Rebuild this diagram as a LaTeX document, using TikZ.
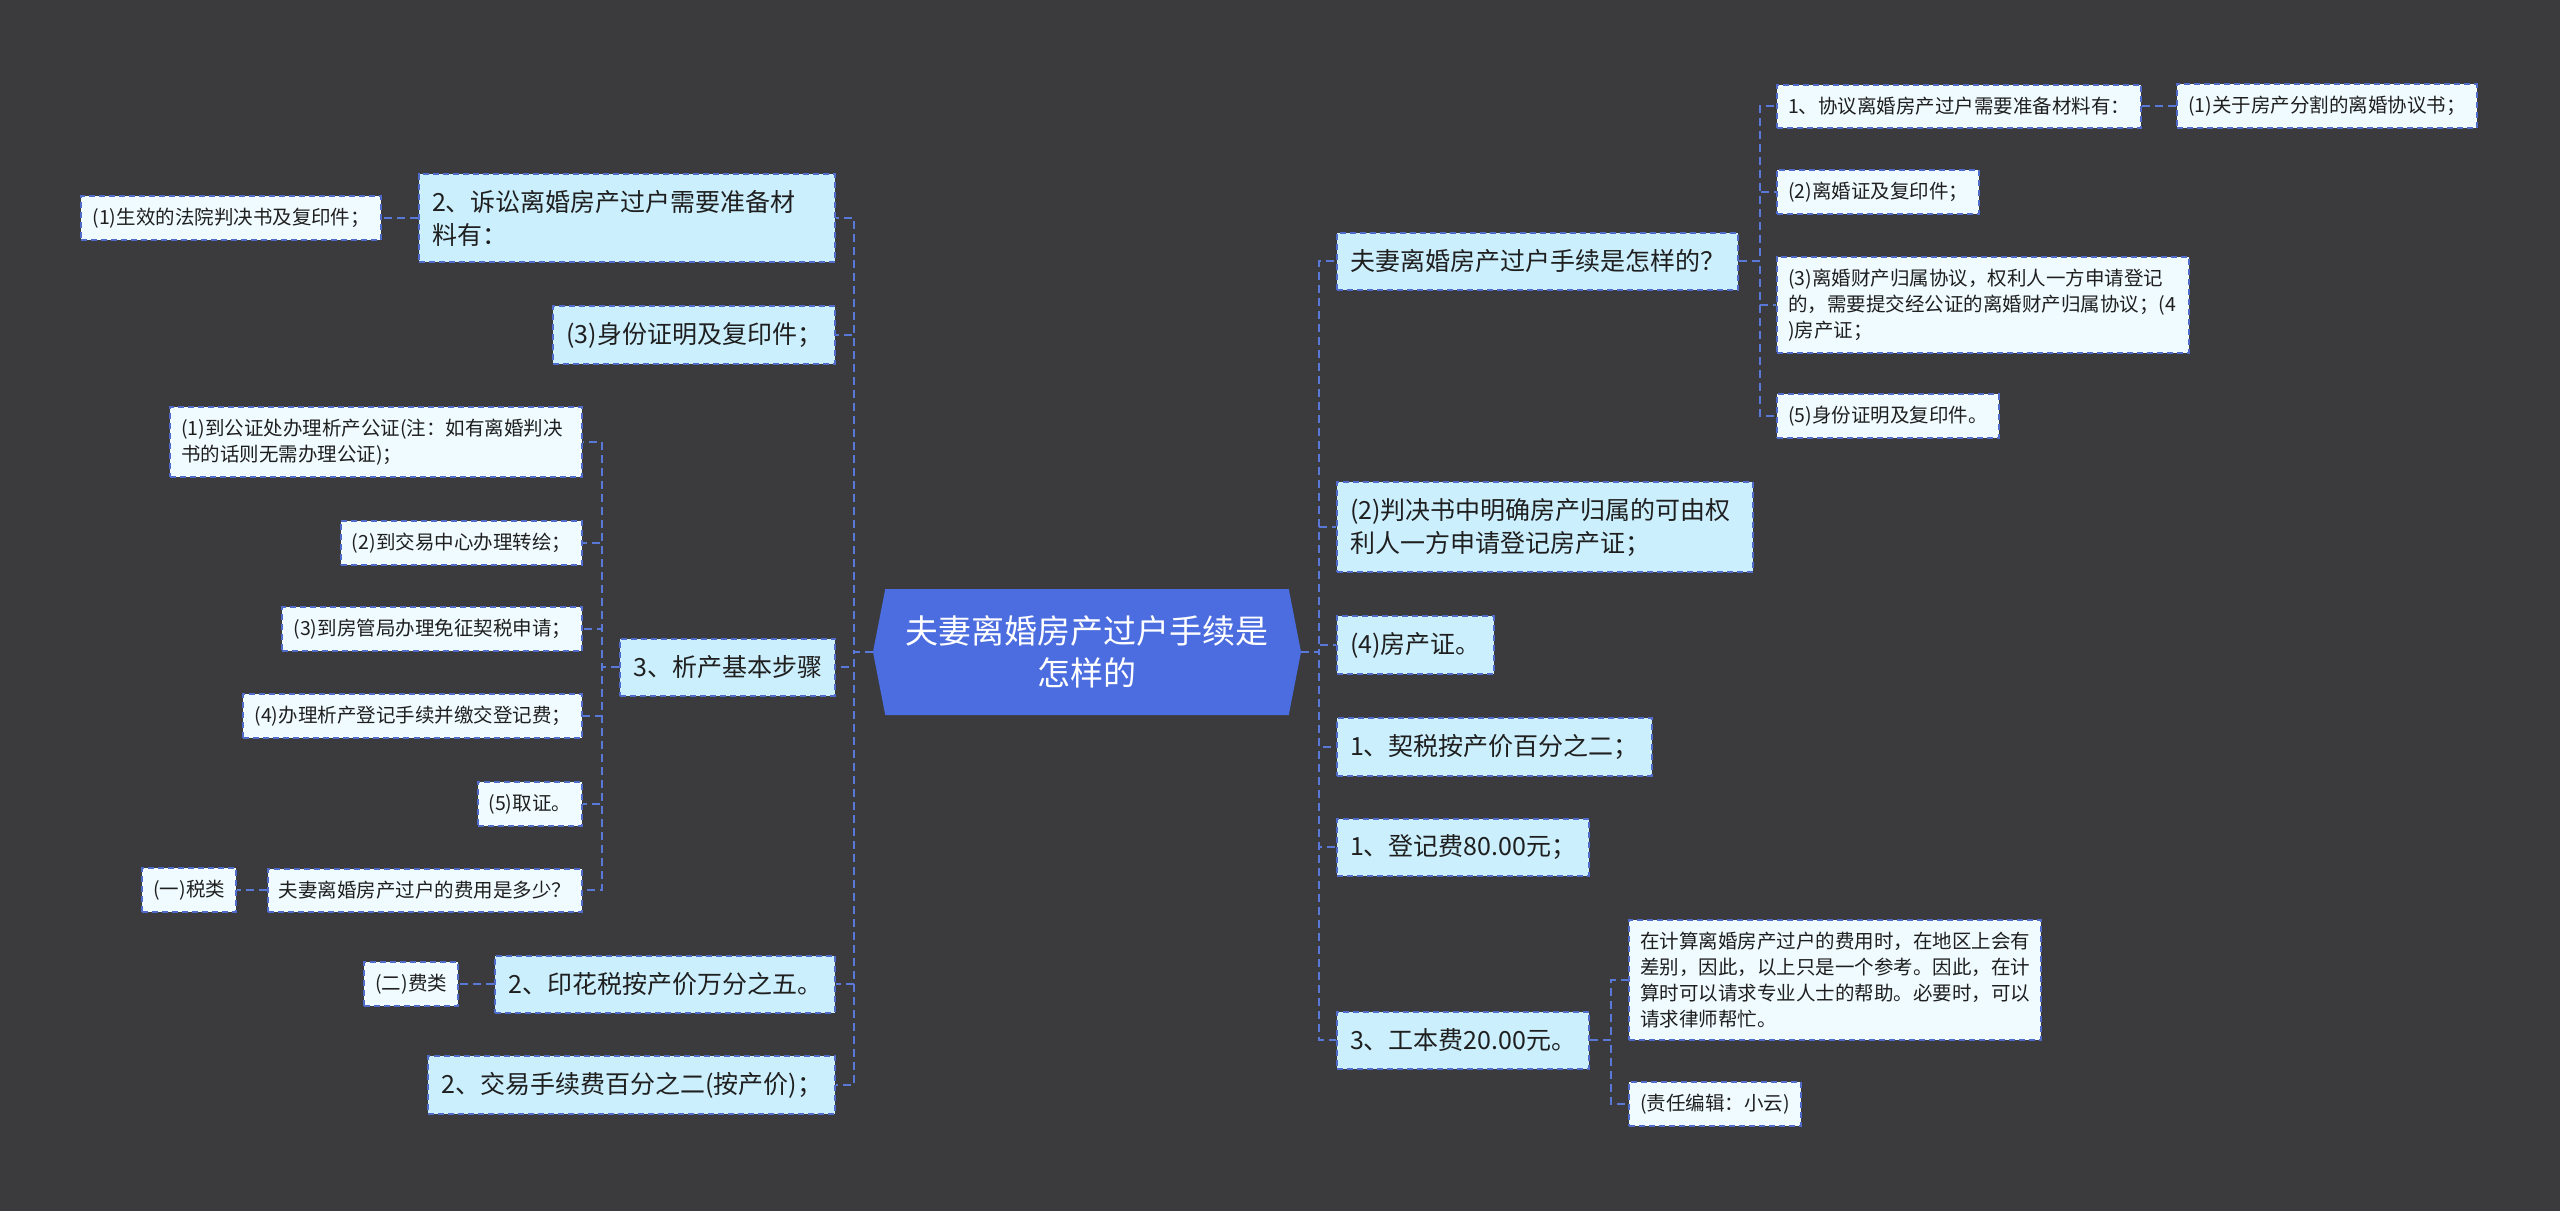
\documentclass[tikz,border=0pt]{standalone}
\usepackage{fontspec}
\setmainfont{Noto Sans CJK SC}
\usetikzlibrary{positioning,shapes.symbols}
\definecolor{Board}{HTML}{3B3A3D}
\definecolor{Ink}{HTML}{1F1F1F}
\definecolor{Sky}{HTML}{CCEFFD}
\definecolor{Frost}{HTML}{F0FBFF}
\definecolor{Royal}{HTML}{4C6DE0}
\definecolor{Edge}{HTML}{4F6AC8}
\definecolor{Wire}{HTML}{5A78D8}
\tikzset{
  topic/.style={draw=Edge,fill=Sky,line width=2pt,dash pattern=on 6pt off 4pt,text=Ink,inner xsep=13pt,inner ysep=16pt,minimum height=57pt,align=left,font=\fontsize{25}{33}\selectfont},
  topicwrap/.style={topic,text width=390pt},
  leaf/.style={topic,fill=Frost,inner xsep=11pt,inner ysep=12pt,minimum height=43pt,font=\fontsize{19.5}{26}\selectfont},
  leafwrap/.style={leaf,text width=390pt},
  root/.style={shape=signal,signal to=west and east,signal pointer angle=158,fill=Royal,text=white,minimum width=428pt,minimum height=126pt,align=center,font=\fontsize{33}{42}\selectfont},
  link/.style={draw=Wire,line width=2pt,dash pattern=on 8pt off 5pt}
}
\begin{document}
\begin{tikzpicture}[x=1pt,y=-1pt]
\fill[Board] (0,0) rectangle (2560,1211);
\useasboundingbox (0,0) rectangle (2560,1211);

\node[root] (root) at (1087,652) {夫妻离婚房产过户手续是\\怎样的};

\node[topicwrap,anchor=east] (lsuit) at (836,218) {2、诉讼离婚房产过户需要准备材\\料有：};
\foreach \name/\y/\txt in {lid/335/{(3)身份证明及复印件；},lsplit/667/{3、析产基本步骤},lstamp/984/{2、印花税按产价万分之五。},lfee/1085/{2、交易手续费百分之二(按产价)；}}
  \node[topic,anchor=east] (\name) at (836,\y) {\txt};
\node[leaf,anchor=east] (lsuitA) at (382,218) {(1)生效的法院判决书及复印件；};
\node[leafwrap,anchor=east] (s1) at (583,442) {(1)到公证处办理析产公证(注：如有离婚判决\\书的话则无需办理公证)；};
\foreach \name/\y/\txt in {s2/543/{(2)到交易中心办理转绘；},s3/629/{(3)到房管局办理免征契税申请；},s4/716/{(4)办理析产登记手续并缴交登记费；},s5/804/{(5)取证。},s6/890/{夫妻离婚房产过户的费用是多少？}}
  \node[leaf,anchor=east] (\name) at (583,\y) {\txt};
\node[leaf,anchor=east] (tax) at (237,890) {(一)税类};
\node[leaf,anchor=east] (feekind) at (459,984) {(二)费类};

\node[topic,anchor=west] (rproc) at (1336,261) {夫妻离婚房产过户手续是怎样的？};
\node[topicwrap,anchor=west] (rjudge) at (1336,527) {(2)判决书中明确房产归属的可由权\\利人一方申请登记房产证；};
\foreach \name/\y/\txt in {rcert/645/{(4)房产证。},rdeed/747/{1、契税按产价百分之二；},rreg/847/{1、登记费80.00元；},rcost/1040/{3、工本费20.00元。}}
  \node[topic,anchor=west] (\name) at (1336,\y) {\txt};
\foreach \name/\y/\txt in {r1/106/{1、协议离婚房产过户需要准备材料有：},r2/192/{(2)离婚证及复印件；},r5/416/{(5)身份证明及复印件。}}
  \node[leaf,anchor=west] (\name) at (1776,\y) {\txt};
\node[leafwrap,anchor=west] (r3) at (1776,305) {(3)离婚财产归属协议，权利人一方申请登记\\的，需要提交经公证的离婚财产归属协议；(4\\)房产证；};
\node[leaf,anchor=west] (r1a) at (2176,106) {(1)关于房产分割的离婚协议书；};
\node[leafwrap,anchor=west] (rnote) at (1628,980) {在计算离婚房产过户的费用时，在地区上会有\\差别，因此，以上只是一个参考。因此，在计\\算时可以请求专业人士的帮助。必要时，可以\\请求律师帮忙。};
\node[leaf,anchor=west] (redit) at (1628,1104) {(责任编辑：小云)};

\foreach \kid in {lsuit,lid,lsplit,lstamp,lfee}
  \draw[link] (root.west) -- ++(-19,0) |- (\kid.east);
\foreach \kid in {rproc,rjudge,rcert,rdeed,rreg,rcost}
  \draw[link] (root.east) -- ++(18,0) |- (\kid.west);
\foreach \kid in {s1,s2,s3,s4,s5,s6}
  \draw[link] (lsplit.west) -- ++(-17,0) |- (\kid.east);
\foreach \kid in {r1,r2,r3,r5}
  \draw[link] (rproc.east) -- ++(21,0) |- (\kid.west);
\foreach \kid in {rnote,redit}
  \draw[link] (rcost.east) -- ++(21,0) |- (\kid.west);
\draw[link] (lsuit.west) -- (lsuitA.east);
\draw[link] (s6.west) -- (tax.east);
\draw[link] (lstamp.west) -- (feekind.east);
\draw[link] (r1.east) -- (r1a.west);
\end{tikzpicture}
\end{document}
